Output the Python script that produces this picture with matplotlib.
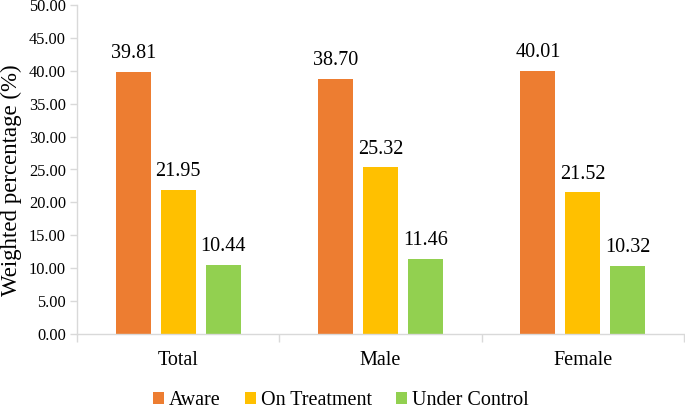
import matplotlib
matplotlib.use("Agg")
import matplotlib.pyplot as plt
import numpy as np

categories = ["Total", "Male", "Female"]
series_names = ["Aware", "On Treatment", "Under Control"]
aware = [39.81, 38.70, 40.01]
on_treatment = [21.95, 25.32, 21.52]
under_control = [10.44, 11.46, 10.32]
y_ticks = [0, 5, 10, 15, 20, 25, 30, 35, 40, 45, 50]

colors = ["#ED7D31", "#FFC000", "#92D050"]
grey = "#D9D9D9"

plt.rcParams['font.family'] = ['Liberation Serif', 'DejaVu Serif']

fig = plt.figure(figsize=(6.85, 4.11), dpi=100)
ax = fig.add_axes([77/685, 77/411, 607/685, 329/411])

x = np.arange(len(categories))
width = 0.173
step = 0.2224
values = [aware, on_treatment, under_control]
for i, (name, vals, c) in enumerate(zip(series_names, values, colors)):
    pos = x + (i - 1) * step
    ax.bar(pos, vals, width, color=c, label=name, edgecolor='none', zorder=2)
    for xp, v in zip(pos, vals):
        ax.annotate(f"{v:.2f}", (xp, v), xytext=(0, 10), textcoords='offset points',
                    ha='center', va='baseline', fontsize=14.5)

ax.set_xlim(-0.5, 2.5)
ax.set_ylim(0, 50)
ax.set_yticks(y_ticks)
ax.set_yticklabels([f"{t:.2f}" for t in y_ticks], fontsize=11.8)
ax.set_xticks(x)
ax.set_xticklabels(categories, fontsize=14.5)
ax.tick_params(axis='x', length=0, pad=12)
ax.set_xticks([-0.5, 0.5, 1.5, 2.5], minor=True)
ax.tick_params(axis='x', which='minor', length=6, color=grey, width=1)
ax.tick_params(axis='y', length=5, color=grey, width=1, pad=3)

for s in ['top', 'right']:
    ax.spines[s].set_visible(False)
for s in ['left', 'bottom']:
    ax.spines[s].set_color(grey)
    ax.spines[s].set_linewidth(1)

fig.text(11/685, 1 - 180/411, "Weighted percentage (%)", rotation=90,
         ha='center', va='center', fontsize=16.5)

leg = fig.legend(loc='center', bbox_to_anchor=(341/685, 10.5/411), ncol=3, frameon=False,
                 fontsize=14.5, handlelength=0.55, handleheight=0.55, handletextpad=0.25,
                 columnspacing=1.2, borderaxespad=0, borderpad=0)

fig.savefig("out.png", dpi=100)
